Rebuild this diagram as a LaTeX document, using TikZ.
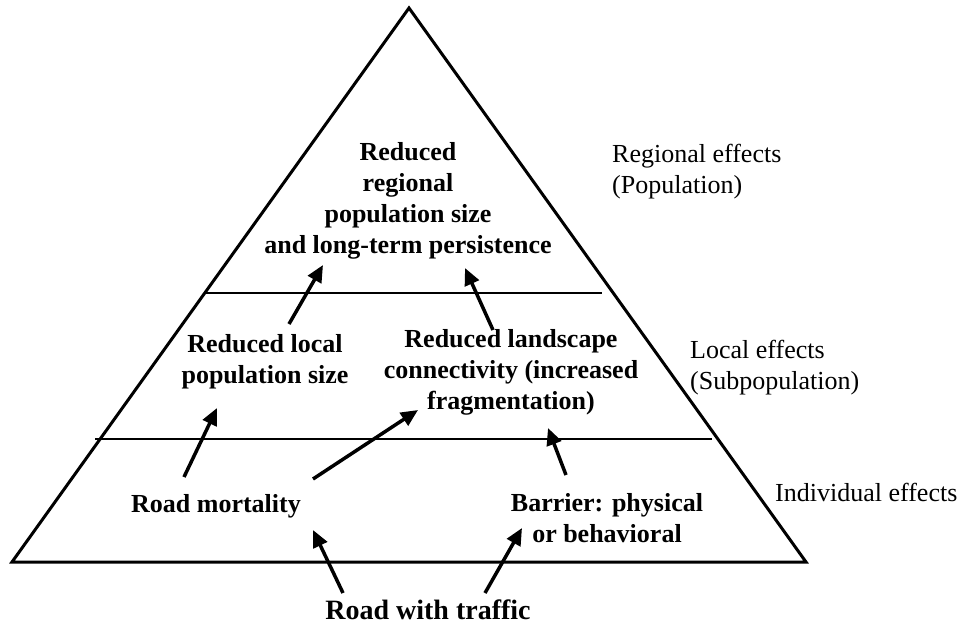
\documentclass[tikz,border=0pt]{standalone}
\usepackage{fontspec}
\setmainfont{Liberation Serif}
\usetikzlibrary{arrows.meta}
\begin{document}
\begin{tikzpicture}[x=1pt,y=-1pt,
  lbl/.style={font=\fontsize{26}{31}\selectfont\bfseries, align=center, inner sep=0pt},
  side/.style={font=\fontsize{26}{31}\selectfont, align=left, anchor=west, inner sep=0pt},
  arr/.style={line width=3.5pt, -{Triangle[length=17pt,width=15pt]}},
  tier/.style={line width=2pt},
  edge/.style={line width=3pt, line join=miter}]
\useasboundingbox (0,0) rectangle (967,626);
% pyramid
\coordinate (apex) at (409,8);
\coordinate (bl) at (12,562);
\coordinate (br) at (806,562);
\draw[edge] (apex) -- (br) -- (bl) -- cycle;
\coordinate (t1a) at (205,293); \coordinate (t1b) at (602,293);
\coordinate (t2a) at (95,439);  \coordinate (t2b) at (712,439);
\draw[tier] (t1a) -- (t1b);
\draw[tier] (t2a) -- (t2b);
% texts
\node[lbl] (regional) at (408,201) {Reduced\\regional\\population size\\and long-term persistence};
\node[lbl] (localpop) at (265,362) {Reduced local\\population size};
\node[lbl] (connect) at (511,372) {Reduced landscape\\connectivity (increased\\fragmentation)};
\node[lbl] (mort) at (216,506) {Road mortality};
\node[lbl] (barrier) at (607,518) {Barrier: physical\\or behavioral};
\node[lbl, font=\fontsize{28}{34}\selectfont\bfseries] (road) at (428,610) {Road with traffic};
\node[side] (lreg) at (612,172) {Regional effects\\(Population)};
\node[side] (lloc) at (690,368) {Local effects\\(Subpopulation)};
\node[side] (lind) at (775,492) {Individual effects};
% arrows
\coordinate (a1) at (289,324); \coordinate (a2) at (323,265);
\coordinate (b1) at (493,330); \coordinate (b2) at (465,268);
\coordinate (c1) at (184,477); \coordinate (c2) at (217,408);
\coordinate (d1) at (313,479); \coordinate (d2) at (418,410);
\coordinate (e1) at (566,475); \coordinate (e2) at (548,428);
\coordinate (f1) at (343,593); \coordinate (f2) at (313,530);
\coordinate (g1) at (485,593); \coordinate (g2) at (522,528);
\draw[arr] (a1) -- (a2);
\draw[arr] (b1) -- (b2);
\draw[arr] (c1) -- (c2);
\draw[arr] (d1) -- (d2);
\draw[arr] (e1) -- (e2);
\draw[arr] (f1) -- (f2);
\draw[arr] (g1) -- (g2);
\end{tikzpicture}
\end{document}
